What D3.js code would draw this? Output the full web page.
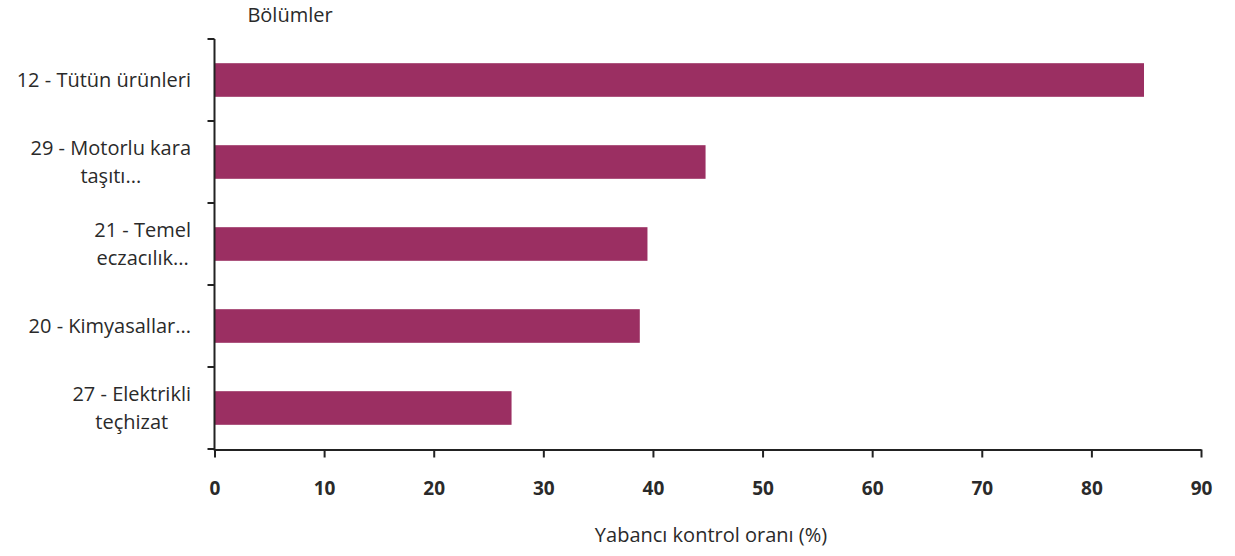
<!DOCTYPE html>
<html><head><meta charset="utf-8">
<script src="https://cdn.jsdelivr.net/npm/d3@7"></script>
<style>body{margin:0;background:#fff}svg{display:block}</style>
</head><body>
<svg id="chart" width="1235" height="556"></svg>
<script>
const categories = ["12 - Tütün ürünleri", "29 - Motorlu kara taşıtı...", "21 - Temel eczacılık...", "20 - Kimyasallar...", "27 - Elektrikli teçhizat"];
const categoryLines = [["12 - Tütün ürünleri"], ["29 - Motorlu kara", "taşıtı..."], ["21 - Temel", "eczacılık..."], ["20 - Kimyasallar..."], ["27 - Elektrikli", "teçhizat"]];
const values = [84.8, 44.8, 39.5, 38.8, 27.1];
const xTicks = [0, 10, 20, 30, 40, 50, 60, 70, 80, 90];
const yTitle = "Bölümler";
const xTitle = "Yabancı kontrol oranı (%)";

const svg = d3.select("#chart");
const font = "'Open Sans', Lato, sans-serif";
const x = d3.scaleLinear().domain([0, 90]).range([214.5, 1201]);
const y = d3.scaleBand().domain(categories).range([39, 449]).paddingInner(0.59).paddingOuter(0.295);
const band = d3.scaleBand().domain(categories).range([39, 449]);

// bars
svg.append("g").selectAll("rect").data(categories).join("rect")
  .attr("x", x(0)).attr("y", d => y(d))
  .attr("width", (d, i) => x(values[i]) - x(0))
  .attr("height", y.bandwidth())
  .attr("fill", "#9b2f62");

// x axis
const xa = svg.append("g").attr("transform", "translate(0,449.5)")
  .call(d3.axisBottom(x).tickValues(xTicks).tickSize(8).tickSizeOuter(0).tickPadding(24));
xa.select(".domain").attr("stroke", "#222").attr("stroke-width", 2);
xa.selectAll(".tick line").attr("stroke", "#222").attr("stroke-width", 2);
xa.selectAll("text").attr("font-family", font).attr("font-weight", "bold").attr("font-size", 19).attr("fill", "#2a2a2a");

// y axis line + ticks at band boundaries
svg.append("line").attr("x1", x(0)).attr("x2", x(0)).attr("y1", 39).attr("y2", 450.5).attr("stroke", "#222").attr("stroke-width", 2);
const bounds = categories.map(c => band(c)).concat([449]);
svg.append("g").selectAll("line").data(bounds).join("line")
  .attr("x1", x(0) - 7).attr("x2", x(0)).attr("y1", d => d).attr("y2", d => d)
  .attr("stroke", "#222").attr("stroke-width", 2);

// category labels
const lh = 28;
const lg = svg.append("g").attr("font-family", font).attr("font-size", 20).attr("fill", "#2a2a2a");
categories.forEach((c, i) => {
  const lines = categoryLines[i];
  const cy = y(c) + y.bandwidth() / 2;
  const g = lg.append("g");
  const texts = lines.map((t, j) => g.append("text")
    .attr("y", cy + (j - (lines.length - 1) / 2) * lh).attr("dy", "0.35em")
    .attr("text-anchor", "middle").text(t));
  const w = d3.max(texts, t => t.node().getComputedTextLength());
  texts.forEach(t => t.attr("x", 191 - w / 2));
});

// titles
svg.append("text").attr("x", 290).attr("y", 15).attr("dy", "0.35em").attr("text-anchor", "middle")
  .attr("font-family", font).attr("font-size", 20).attr("fill", "#2a2a2a").text(yTitle);
svg.append("text").attr("x", 711).attr("y", 535).attr("dy", "0.35em").attr("text-anchor", "middle")
  .attr("font-family", font).attr("font-size", 20).attr("fill", "#2a2a2a").text(xTitle);
</script>
</body></html>
